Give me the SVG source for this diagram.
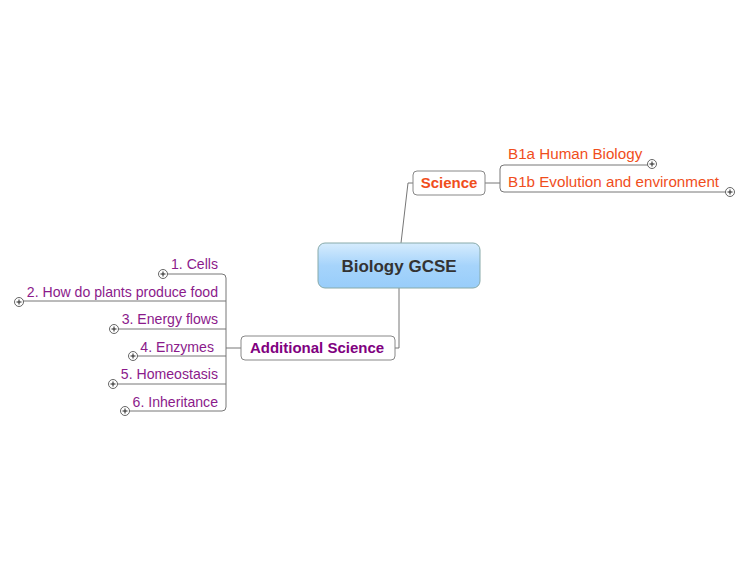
<svg xmlns="http://www.w3.org/2000/svg" width="750" height="563" viewBox="0 0 750 563">
<defs>
<linearGradient id="g" x1="0" y1="0" x2="0" y2="1"><stop offset="0" stop-color="#d6ecfd"/><stop offset="0.5" stop-color="#a6d4fb"/><stop offset="1" stop-color="#98cdfa"/></linearGradient>
<g id="plus"><circle r="4.5" fill="#fff" stroke="#555" stroke-width="0.9"/><path d="M-2.5 0H2.5M0 -2.5V2.5" stroke="#222" stroke-width="1"/></g>
</defs>
<style>
.c{fill:none;stroke:#777;stroke-width:1}
.o{font-family:"Liberation Sans",Arial,sans-serif;font-size:15.2px;fill:#f04e1c}
.p{font-family:"Liberation Sans",Arial,sans-serif;font-size:14.1px;fill:#8b1a8b;text-anchor:end}
.b{stroke:#888;fill:#fff}
</style>
<rect width="750" height="563" fill="#fff"/>
<g id="connectors">
<path class="c" d="M401 243 L408 183 H413"/>
<path class="c" d="M485 183 H500"/>
<path class="c" d="M655 165 H504 Q500 165 500 169 V188 Q500 192 504 192 H726"/>
<path class="c" d="M399 288 V348 H395"/>
<path class="c" d="M241 348 H226"/>
<path class="c" d="M167 274 H222 Q226 274 226 278 V407 Q226 411 222 411 H129"/>
<path class="c" d="M23 301 H226 M118 329 H226 M137 356 H226 M117 384 H226"/>
</g>
<g id="central"><rect x="318" y="243" width="162" height="45" rx="7" fill="url(#g)" stroke="#8aa"/>
<text x="399" y="272" text-anchor="middle" font-family="Liberation Sans,Arial,sans-serif" font-size="17" font-weight="bold" fill="#333">Biology GCSE</text></g>
<g id="science"><rect class="b" x="413" y="171" width="72" height="24" rx="4"/>
<text x="449" y="188" text-anchor="middle" font-family="Liberation Sans,Arial,sans-serif" font-size="15" font-weight="bold" fill="#f04e1c">Science</text></g>
<g id="b1a"><text class="o" x="508" y="159">B1a Human Biology</text><use href="#plus" x="652" y="164"/></g>
<g id="b1b"><text class="o" x="508" y="187">B1b Evolution and environment</text><use href="#plus" x="730" y="192"/></g>
<g id="additional"><rect class="b" x="241" y="336" width="154" height="24" rx="4"/>
<text x="317" y="353" text-anchor="middle" font-family="Liberation Sans,Arial,sans-serif" font-size="15" font-weight="bold" fill="#800080">Additional Science</text></g>
<g id="n1"><text class="p" x="218" y="269">1. Cells</text><use href="#plus" x="163" y="274"/></g>
<g id="n2"><text class="p" x="218" y="297">2. How do plants produce food</text><use href="#plus" x="19" y="302"/></g>
<g id="n3"><text class="p" x="218" y="324">3. Energy flows</text><use href="#plus" x="114" y="329"/></g>
<g id="n4"><text class="p" x="214" y="352">4. Enzymes</text><use href="#plus" x="133" y="356"/></g>
<g id="n5"><text class="p" x="218" y="379">5. Homeostasis</text><use href="#plus" x="113" y="384"/></g>
<g id="n6"><text class="p" x="218" y="407">6. Inheritance</text><use href="#plus" x="125" y="411"/></g>
</svg>
